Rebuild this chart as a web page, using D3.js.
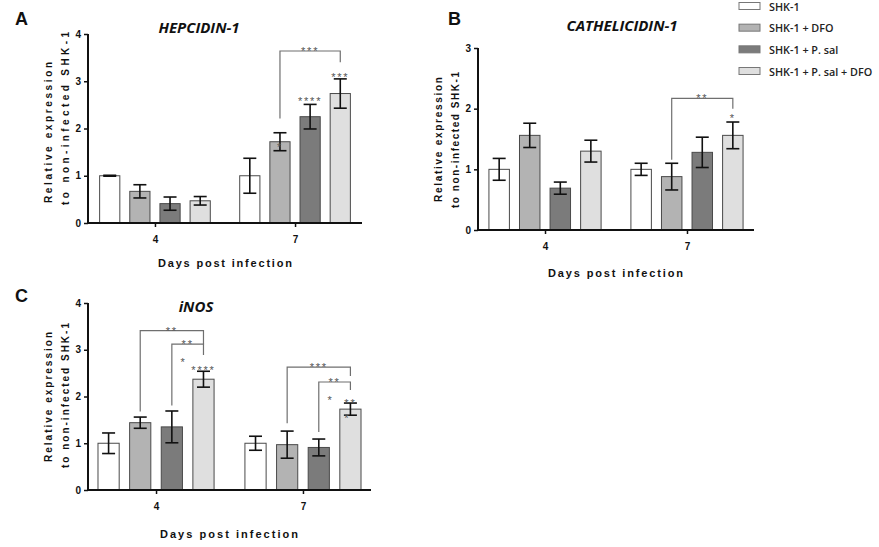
<!DOCTYPE html>
<html><head><meta charset="utf-8">
<script src="https://cdn.jsdelivr.net/npm/d3@7"></script>
<style>body{margin:0;background:#fff}svg{display:block}</style>
</head><body>
<svg id="chart" width="879" height="547"></svg>
<script>
// ---------- data ----------
const seriesNames = ["SHK-1", "SHK-1 + DFO", "SHK-1 + P. sal", "SHK-1 + P. sal + DFO"];
const seriesColors = ["#ffffff", "#b3b3b3", "#7b7b7b", "#dfdfdf"];
const dayLabels = ["4", "7"];

const hepcidinDay4 = [1.00, 0.67, 0.41, 0.47];
const hepcidinDay4Err = [0.01, 0.14, 0.14, 0.09];
const hepcidinDay7 = [1.00, 1.72, 2.25, 2.74];
const hepcidinDay7Err = [0.37, 0.19, 0.26, 0.31];
const hepcidinTicks = [0, 1, 2, 3, 4];

const cathelicidinDay4 = [1.00, 1.56, 0.69, 1.30];
const cathelicidinDay4Err = [0.18, 0.20, 0.10, 0.18];
const cathelicidinDay7 = [1.00, 0.88, 1.28, 1.56];
const cathelicidinDay7Err = [0.10, 0.22, 0.25, 0.22];
const cathelicidinTicks = [0, 1, 2, 3];

const inosDay4 = [1.00, 1.44, 1.35, 2.37];
const inosDay4Err = [0.22, 0.12, 0.34, 0.17];
const inosDay7 = [1.00, 0.97, 0.91, 1.73];
const inosDay7Err = [0.15, 0.29, 0.18, 0.13];
const inosTicks = [0, 1, 2, 3, 4];

// significance brackets: [day, fromSeries, toSeries, top, leftFoot, rightFoot, label]
const hepcidinBrackets = [["7", 1, 3, 3.64, 2.21, 3.40, "***"]];
const cathelicidinBrackets = [["7", 1, 3, 2.17, 1.16, 2.00, "**"]];
const inosBrackets = [
  ["4", 1, 3, 3.41, 1.68, 3.11, "**"],
  ["4", 2, 3, 3.12, 1.81, 2.89, "**"],
  ["7", 1, 3, 2.63, 1.43, 2.44, "***"],
  ["7", 2, 3, 2.31, 1.24, 2.14, "**"]
];
// star marks: [day, series, value, label, shift (in bar widths)]
const hepcidinStars = [["7", 1, 1.60, "*", 0], ["7", 2, 2.58, "****", 0], ["7", 3, 3.10, "***", 0]];
const cathelicidinStars = [["7", 3, 1.84, "*", 0]];
const inosStars = [
  ["4", 2, 2.74, "*", 0.55], ["4", 3, 2.57, "****", 0],
  ["7", 2, 1.93, "*", 0.55], ["7", 3, 1.87, "**", 0], ["7", 3, 1.53, "*", -0.15]
];

// ---------- drawing ----------
const svg = d3.select("#chart");
const FONT = "'Liberation Sans', Arial, sans-serif";
const CAL = "'Open Sans', 'Noto Sans', sans-serif";

function drawPanel(cfg) {
  const g = svg.append("g");
  const y = d3.scaleLinear().domain([0, cfg.yMax]).range([cfg.yBottom, cfg.yTop]);
  const x = d3.scalePoint().domain(dayLabels).range([cfg.x0, cfg.x1]).padding(cfg.pad);
  const step = x.step();
  const inner = d3.scaleBand().domain(d3.range(4)).range([-0.395 * step, 0.395 * step]).paddingInner(0.33).paddingOuter(0);
  const bw = inner.bandwidth();
  const cx = (day, s) => x(day) + inner(s) + bw / 2;

  const rows = [];
  dayLabels.forEach((d, di) => {
    cfg.means[di].forEach((v, s) => rows.push({ day: d, s, v, e: cfg.errs[di][s] }));
  });

  // bars
  g.selectAll("rect.bar").data(rows).join("rect")
    .attr("x", d => x(d.day) + inner(d.s))
    .attr("width", bw)
    .attr("y", d => y(d.v))
    .attr("height", d => y(0) - y(d.v))
    .attr("fill", d => seriesColors[d.s])
    .attr("stroke", "#4a4a4a").attr("stroke-width", 1);

  // error bars
  const cap = 6.5;
  const eb = g.selectAll("g.eb").data(rows).join("g").attr("stroke", "#111").attr("stroke-width", 1.6);
  eb.append("line").attr("x1", d => cx(d.day, d.s)).attr("x2", d => cx(d.day, d.s))
    .attr("y1", d => y(d.v + d.e)).attr("y2", d => y(d.v - d.e));
  eb.append("line").attr("x1", d => cx(d.day, d.s) - cap).attr("x2", d => cx(d.day, d.s) + cap)
    .attr("y1", d => y(d.v + d.e)).attr("y2", d => y(d.v + d.e));
  eb.append("line").attr("x1", d => cx(d.day, d.s) - cap).attr("x2", d => cx(d.day, d.s) + cap)
    .attr("y1", d => y(d.v - d.e)).attr("y2", d => y(d.v - d.e));

  // axes
  const ya = g.append("g").attr("transform", `translate(${cfg.x0},0)`)
    .call(d3.axisLeft(y).tickValues(cfg.ticks).tickFormat(d3.format("d")).tickSize(4).tickSizeOuter(0));
  const xa = g.append("g").attr("transform", `translate(0,${cfg.yBottom})`)
    .call(d3.axisBottom(x).tickSize(4).tickSizeOuter(0).tickPadding(9));
  [ya, xa].forEach(a => {
    a.select(".domain").attr("stroke", "#111").attr("stroke-width", 2);
    a.selectAll(".tick line").attr("stroke", "#111").attr("stroke-width", 1.5);
    a.selectAll("text").attr("font-family", FONT).attr("font-weight", "bold").attr("font-size", 10).attr("fill", "#111");
  });
  ya.select(".domain").attr("d", `M0,${cfg.yBottom}V${cfg.yTop}`);
  xa.select(".domain").attr("d", `M${cfg.x0 - 1},0H${cfg.x1}`);

  // brackets
  cfg.brackets.forEach(b => {
    const xl = cx(b[0], b[1]), xr = cx(b[0], b[2]);
    g.append("path").attr("fill", "none").attr("stroke", "#6f6f6f").attr("stroke-width", 1.2)
      .attr("d", `M${xl},${y(b[4])}V${y(b[3])}H${xr}V${y(b[5])}`);
    g.append("text").attr("x", (xl + xr) / 2).attr("y", y(b[3]) + 4)
      .attr("text-anchor", "middle").attr("font-family", FONT).attr("font-size", 11)
      .attr("letter-spacing", 1.8).attr("fill", "#555").text(b[6]);
  });
  cfg.stars.forEach(s => {
    g.append("text").attr("x", cx(s[0], s[1]) + s[4] * bw).attr("y", y(s[2]) + 4)
      .attr("text-anchor", "middle").attr("font-family", FONT).attr("font-size", 11)
      .attr("letter-spacing", 1.8).attr("fill", "#555").text(s[3]);
  });

  // y label (two lines, rotated)
  cfg.yLabel.forEach((ln, i) => {
    g.append("text").attr("transform", `translate(${ln[1]},${ln[2]}) rotate(-90)`)
      .attr("dominant-baseline", "central").attr("font-family", FONT).attr("font-weight", "bold")
      .attr("font-size", 10).attr("fill", "#111")
      .attr("textLength", ln[2] - ln[3]).attr("lengthAdjust", "spacing").text(ln[0]);
  });
  // x label
  g.append("text").attr("x", cfg.xLabel[0]).attr("y", cfg.xLabel[2]).attr("dominant-baseline", "central")
    .attr("font-family", FONT).attr("font-weight", "bold").attr("font-size", 11).attr("fill", "#111")
    .attr("textLength", cfg.xLabel[1] - cfg.xLabel[0]).attr("lengthAdjust", "spacing").text("Days post infection");
  // title
  g.append("text").attr("x", cfg.title[1]).attr("y", cfg.title[2]).attr("text-anchor", "middle")
    .attr("dominant-baseline", "central").attr("font-family", CAL).attr("font-weight", "bold")
    .attr("font-style", "italic").attr("font-size", 15).attr("fill", "#111").text(cfg.title[0]);
  // panel letter
  g.append("text").attr("x", cfg.letter[1]).attr("y", cfg.letter[2]).attr("font-family", FONT)
    .attr("font-weight", "bold").attr("font-size", 18).attr("fill", "#111").text(cfg.letter[0]);
}

drawPanel({
  means: [hepcidinDay4, hepcidinDay7], errs: [hepcidinDay4Err, hepcidinDay7Err],
  ticks: hepcidinTicks, yMax: 4, brackets: hepcidinBrackets, stars: hepcidinStars,
  x0: 88, x1: 362, yTop: 34, yBottom: 223, pad: 0.478,
  yLabel: [["Relative expression", 48, 203, 62], ["to non-infected SHK-1", 65, 205, 32]],
  xLabel: [158, 292, 263], title: ["HEPCIDIN-1", 199, 27], letter: ["A", 15, 25]
});
drawPanel({
  means: [cathelicidinDay4, cathelicidinDay7], errs: [cathelicidinDay4Err, cathelicidinDay7Err],
  ticks: cathelicidinTicks, yMax: 3, brackets: cathelicidinBrackets, stars: cathelicidinStars,
  x0: 478, x1: 754, yTop: 48, yBottom: 230, pad: 0.472,
  yLabel: [["Relative expression", 438, 202, 77], ["to non-infected SHK-1", 455, 208, 72]],
  xLabel: [548, 683, 273], title: ["CATHELICIDIN-1", 622, 25], letter: ["B", 448, 25]
});
drawPanel({
  means: [inosDay4, inosDay7], errs: [inosDay4Err, inosDay7Err],
  ticks: inosTicks, yMax: 4, brackets: inosBrackets, stars: inosStars,
  x0: 88, x1: 371, yTop: 303, yBottom: 490, pad: 0.463,
  yLabel: [["Relative expression", 48, 462, 332], ["to non-infected SHK-1", 65, 468, 323]],
  xLabel: [160, 298, 534], title: ["iNOS", 196, 306], letter: ["C", 15, 302]
});

// legend
const legend = svg.append("g").attr("transform", "translate(739,0)");
const ly = d3.scalePoint().domain(seriesNames).range([6, 71]);
seriesNames.forEach((name, i) => {
  legend.append("rect").attr("x", 0).attr("y", ly(name) - 3.5).attr("width", 21).attr("height", 7)
    .attr("fill", seriesColors[i]).attr("stroke", "#777").attr("stroke-width", 1);
  legend.append("text").attr("x", 30).attr("y", ly(name)).attr("dominant-baseline", "central")
    .attr("font-family", CAL).attr("font-weight", 600).attr("font-size", 10.8).attr("fill", "#222").text(name);
});
</script>
</body></html>
